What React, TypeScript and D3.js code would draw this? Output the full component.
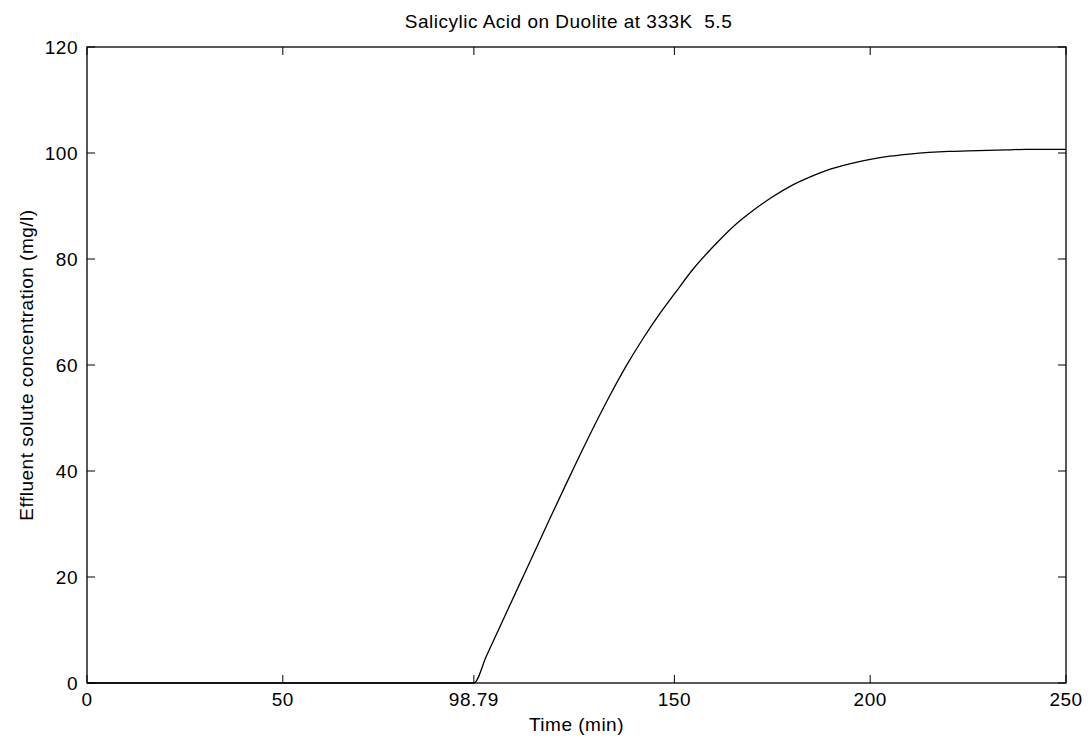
import React from "react";
import * as d3 from "d3";

const timeMin = [0, 50, 98.79, 102, 106, 110, 114, 118, 122, 126, 130, 134, 138, 142, 146, 150, 155, 160, 165, 170, 175, 180, 185, 190, 195, 200, 205, 210, 215, 220, 225, 230, 235, 240, 250];
const concentration = [0, 0, 0, 5.1, 11.5, 17.9, 24.3, 30.7, 37.0, 43.2, 49.2, 54.9, 60.2, 65.0, 69.4, 73.4, 78.3, 82.4, 86.1, 89.1, 91.7, 93.9, 95.6, 97.0, 98.0, 98.8, 99.4, 99.8, 100.1, 100.3, 100.4, 100.5, 100.6, 100.7, 100.7];
const xTicks = [0, 50, 98.79, 150, 200, 250];
const xTickLabels = ["0", "50", "98.79", "150", "200", "250"];
const yTicks = [0, 20, 40, 60, 80, 100, 120];

const W = 1092;
const H = 741;
const left = 87, right = 1066, top = 47, bottom = 683;

export default function App() {
  const x = d3.scaleLinear().domain([0, 250]).range([left, right]);
  const y = d3.scaleLinear().domain([0, 120]).range([bottom, top]);
  const line = d3
    .line<number>()
    .x((_, i) => x(timeMin[i]))
    .y((d) => y(d))
    .curve(d3.curveMonotoneX);
  const path = line(concentration) || "";
  const font = "'Liberation Sans', Arial, Helvetica, sans-serif";
  const tl = 8;
  const fs = 19;
  const ls = 0.5;
  return (
    <svg width={W} height={H} style={{ position: "absolute", left: 0, top: 0, background: "#fff" }} fontFamily={font}>
      <rect x={0} y={0} width={W} height={H} fill="#fff" />
      <rect x={left} y={top} width={right - left} height={bottom - top} fill="none" stroke="#000" strokeWidth={1.3} />
      {xTicks.map((t, i) => (
        <g key={"x" + i}>
          <line x1={x(t)} x2={x(t)} y1={bottom} y2={bottom - tl} stroke="#000" strokeWidth={1} />
          <line x1={x(t)} x2={x(t)} y1={top} y2={top + tl} stroke="#000" strokeWidth={1} />
          <text x={x(t)} y={bottom + 23} textAnchor="middle" fontSize={fs} letterSpacing={ls} fill="#000">{xTickLabels[i]}</text>
        </g>
      ))}
      {yTicks.map((t, i) => (
        <g key={"y" + i}>
          <line x1={left} x2={left + tl} y1={y(t)} y2={y(t)} stroke="#000" strokeWidth={1} />
          <line x1={right} x2={right - tl} y1={y(t)} y2={y(t)} stroke="#000" strokeWidth={1} />
          <text x={left - 9} y={y(t)} dy="0.35em" textAnchor="end" fontSize={fs} letterSpacing={ls} fill="#000">{t}</text>
        </g>
      ))}
      <path d={path} fill="none" stroke="#000" strokeWidth={1.3} />
      <text x={(left + right) / 2} y={bottom + 48} textAnchor="middle" fontSize={fs} letterSpacing={ls} fill="#000">Time (min)</text>
      <text transform={`translate(26,${(top + bottom) / 2}) rotate(-90)`} textAnchor="middle" dy="0.35em" fontSize={fs} letterSpacing={ls} fill="#000">Effluent solute concentration (mg/l)</text>
      <text x={(left + right) / 2 - 8} y={top - 26} dy="0.35em" textAnchor="middle" fontSize={fs} letterSpacing={ls} fill="#000" style={{ whiteSpace: "pre" }}>{"Salicylic Acid on Duolite at 333K  5.5"}</text>
    </svg>
  );
}
